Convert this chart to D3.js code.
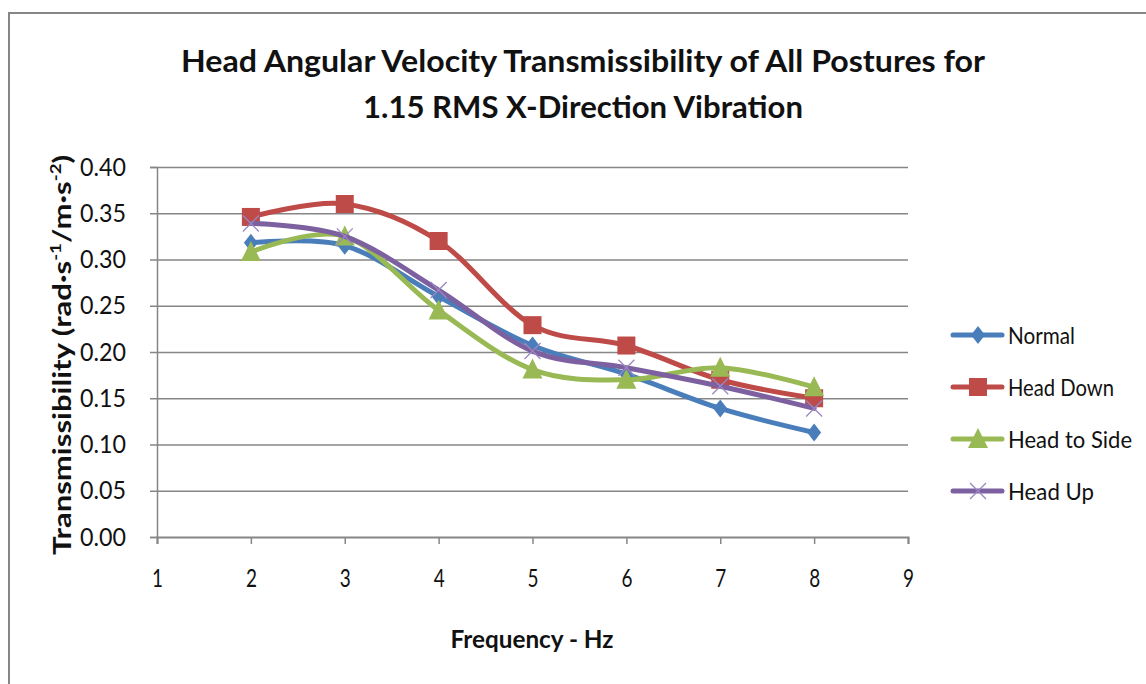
<!DOCTYPE html>
<html><head><meta charset="utf-8">
<script src="https://cdn.jsdelivr.net/npm/d3@7"></script>
<style>body{margin:0;background:#fff}svg{display:block}</style>
</head><body><svg id="c" width="1146" height="684"></svg>
<script>
const frequencies = [2, 3, 4, 5, 6, 7, 8];
const normal     = [0.318, 0.315, 0.260, 0.207, 0.176, 0.139, 0.113];
const headDown   = [0.346, 0.360, 0.320, 0.229, 0.207, 0.170, 0.150];
const headToSide = [0.308, 0.325, 0.245, 0.181, 0.170, 0.183, 0.162];
const headUp     = [0.339, 0.325, 0.267, 0.201, 0.183, 0.163, 0.139];
const seriesNames = ["Normal", "Head Down", "Head to Side", "Head Up"];
const xTicks = [1, 2, 3, 4, 5, 6, 7, 8, 9];
const yTicks = [0, 0.05, 0.10, 0.15, 0.20, 0.25, 0.30, 0.35, 0.40];
const titleLines = ["Head Angular Velocity Transmissibility of All Postures for", "1.15 RMS X-Direction Vibration"];
const xTitle = "Frequency - Hz";

const allSeries = [normal, headDown, headToSide, headUp];
const colors = ["#4a7ebb", "#be4b48", "#98b954", "#7d60a0"];
const markers = ["diamond", "square", "triangle", "x"];
const font = "Lato, 'Open Sans', sans-serif";

const svg = d3.select("#c");
// chart border (right/bottom off-canvas)
svg.append("rect").attr("x", 9).attr("y", 13).attr("width", 1200).attr("height", 700)
  .attr("fill", "#fff").attr("stroke", "#868686").attr("stroke-width", 2);

const x = d3.scaleLinear().domain([1, 9]).range([157, 908]);
const y = d3.scaleLinear().domain([0, 0.4]).range([537, 167]);

// gridlines
svg.append("g").attr("transform", "translate(157,0)")
  .call(d3.axisLeft(y).tickValues(yTicks.slice(1)).tickSize(-(908 - 157)).tickFormat(""))
  .call(g => g.select(".domain").remove())
  .call(g => g.selectAll("line").attr("stroke", "#868686").attr("stroke-width", 1.5));

// y axis
const ya = svg.append("g").attr("transform", "translate(157,0)")
  .call(d3.axisLeft(y).tickValues(yTicks).tickSize(7).tickPadding(24).tickFormat(d3.format(".2f")));
ya.select(".domain").attr("stroke", "#868686").attr("stroke-width", 1.5);
ya.selectAll(".tick line").attr("stroke", "#868686").attr("stroke-width", 1.5);
ya.selectAll(".tick text").attr("font-family", font).attr("font-size", 25).attr("fill", "#111")
  .attr("textLength", 46).attr("lengthAdjust", "spacingAndGlyphs");

// x axis
const xa = svg.append("g").attr("transform", "translate(0,537)")
  .call(d3.axisBottom(x).tickValues(xTicks).tickSize(7).tickPadding(25).tickFormat(d3.format("d")));
xa.select(".domain").attr("stroke", "#868686").attr("stroke-width", 2);
xa.selectAll(".tick line").attr("stroke", "#868686").attr("stroke-width", 1.5);
xa.selectAll(".tick text").attr("font-family", font).attr("font-size", 25).attr("fill", "#111")
  .attr("textLength", 11).attr("lengthAdjust", "spacingAndGlyphs");

// title
titleLines.forEach((t, i) => {
  svg.append("text").attr("x", 583).attr("y", i === 0 ? 72 : 118).attr("text-anchor", "middle")
    .attr("font-family", font).attr("font-weight", "bold").attr("font-size", 31).attr("fill", "#111")
    .attr("textLength", i === 0 ? 804 : 440).attr("lengthAdjust", "spacingAndGlyphs").text(t);
});

// x title
svg.append("text").attr("x", 532).attr("y", 648).attr("text-anchor", "middle")
  .attr("font-family", font).attr("font-weight", "bold").attr("font-size", 24).attr("fill", "#111")
  .attr("textLength", 163).attr("lengthAdjust", "spacingAndGlyphs").text(xTitle);

// y title
const yt = svg.append("text").attr("transform", "translate(71,355) rotate(-90)").attr("text-anchor", "middle")
  .attr("font-family", font).attr("font-weight", "bold").attr("font-size", 25).attr("fill", "#111")
  .attr("textLength", 400).attr("lengthAdjust", "spacingAndGlyphs");
yt.append("tspan").text("Transmissibility (rad·s");
yt.append("tspan").attr("font-size", 15).attr("dy", -10).text("-1");
yt.append("tspan").attr("dy", 10).text("/m·s");
yt.append("tspan").attr("font-size", 15).attr("dy", -10).text("-2");
yt.append("tspan").attr("dy", 10).text(")");

function drawMarker(g, type, cx, cy, color) {
  if (type === "diamond") {
    g.append("path").attr("d", `M${cx},${cy-9}L${cx+7},${cy}L${cx},${cy+9}L${cx-7},${cy}Z`).attr("fill", color);
  } else if (type === "square") {
    g.append("rect").attr("x", cx - 9).attr("y", cy - 9).attr("width", 18).attr("height", 18).attr("fill", color);
  } else if (type === "triangle") {
    g.append("path").attr("d", `M${cx},${cy-11}L${cx+10},${cy+9}L${cx-10},${cy+9}Z`).attr("fill", color);
  } else {
    g.append("path").attr("d", `M${cx-8},${cy-8}L${cx+8},${cy+8}M${cx+8},${cy-8}L${cx-8},${cy+8}`)
      .attr("stroke", "#9a86c2").attr("stroke-width", 1.3).attr("fill", "none");
  }
}

const line = d3.line().x(d => x(d[0])).y(d => y(d[1])).curve(d3.curveCardinal.tension(0));
allSeries.forEach((vals, i) => {
  const g = svg.append("g");
  const pts = frequencies.map((f, j) => [f, vals[j]]);
  g.append("path").datum(pts).attr("d", line).attr("fill", "none")
    .attr("stroke", colors[i]).attr("stroke-width", 5).attr("stroke-linecap", "round");
  pts.forEach(p => drawMarker(g, markers[i], x(p[0]), y(p[1]), colors[i]));
});

// legend
const legendY = [335, 387, 439, 491];
seriesNames.forEach((name, i) => {
  const g = svg.append("g");
  g.append("line").attr("x1", 953).attr("x2", 1002).attr("y1", legendY[i]).attr("y2", legendY[i])
    .attr("stroke", colors[i]).attr("stroke-width", 5).attr("stroke-linecap", "round");
  drawMarker(g, markers[i], 978, legendY[i], colors[i]);
  const tl = [67, 106, 124, 86][i];
  g.append("text").attr("x", 1008).attr("y", legendY[i] + 9).attr("font-family", font).attr("font-size", 24)
    .attr("fill", "#111").attr("textLength", tl).attr("lengthAdjust", "spacingAndGlyphs").text(name);
});
</script></body></html>
